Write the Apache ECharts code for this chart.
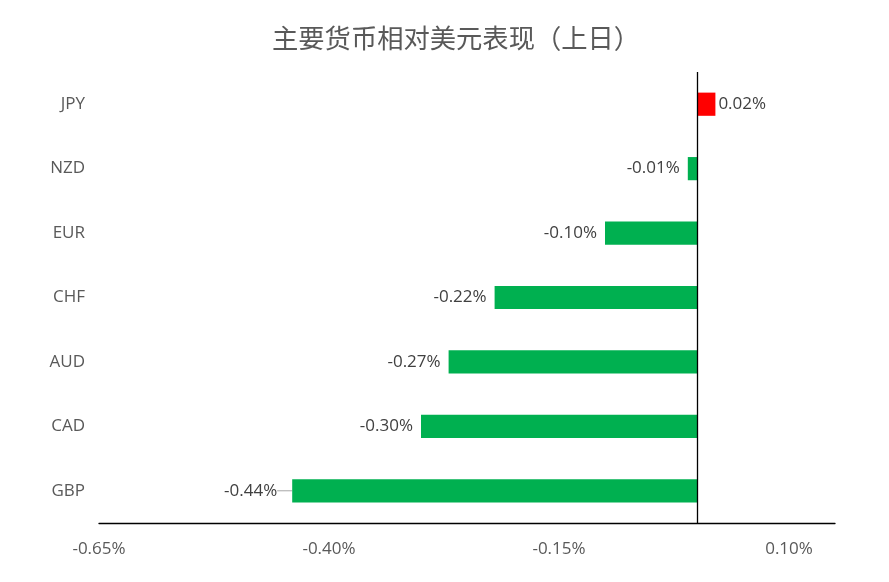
<!DOCTYPE html>
<html>
<head>
<meta charset="utf-8">
<script src="https://cdn.jsdelivr.net/npm/echarts@6/dist/echarts.min.js"></script>
<style>
html, body { margin: 0; padding: 0; background: #fff; }
#container { width: 889px; height: 582px; }
</style>
</head>
<body>
<div id="container"></div>
<script>
// 数据（从上到下）
var currencies = ['JPY', 'NZD', 'EUR', 'CHF', 'AUD', 'CAD', 'GBP'];
var changes = [0.02, -0.01, -0.10, -0.22, -0.27, -0.30, -0.44];
var axisMin = -0.65;
var axisMax = 0.15;
var axisStep = 0.25;

var myChart = echarts.init(document.getElementById('container'));

// 正值红色、负值绿色，标签放在柱子外侧
var lastIdx = currencies.length - 1;
var barData = changes.map(function (v, i) {
    var item = {
        value: v,
        itemStyle: { color: v >= 0 ? '#FF0000' : '#00B050' },
        label: {
            position: v >= 0 ? 'right' : 'left',
            distance: v >= 0 ? 3 : 8
        },
        labelLine: { show: i === lastIdx }
    };
    return item;
});

var option = {
    title: {
        text: '主要货币相对美元表现（上日）',
        left: 267,
        top: 20,
        textStyle: {
            fontFamily: 'Noto Sans CJK SC',
            fontSize: 26.3,
            fontWeight: 'normal',
            color: '#595959'
        }
    },
    grid: {
        left: 99,
        right: 54,
        top: 72,
        bottom: 59,
        containLabel: false
    },
    xAxis: {
        type: 'value',
        min: axisMin,
        max: axisMax,
        interval: axisStep,
        splitLine: { show: false },
        axisTick: { show: false },
        axisLine: { show: true, lineStyle: { color: '#000', width: 1.3 } },
        axisLabel: {
            showMaxLabel: false,
            margin: 18,
            fontFamily: 'Open Sans',
            fontSize: 17,
            color: '#595959',
            formatter: function (v) { return v.toFixed(2) + '%'; }
        }
    },
    yAxis: {
        type: 'category',
        inverse: true,
        data: currencies,
        axisLine: { show: false, onZero: false },
        axisTick: { show: false },
        axisLabel: {
            margin: 14,
            fontFamily: 'Open Sans',
            fontSize: 17,
            color: '#595959'
        }
    },
    series: [
        {
            type: 'bar',
            barWidth: '36%',
            data: barData,
            label: {
                show: true,
                fontFamily: 'Open Sans',
                fontSize: 17,
                color: '#404040',
                formatter: function (p) { return p.value.toFixed(2) + '%'; }
            },
            labelLayout: function (p) {
                // GBP 标签稍微外移，带引导线
                if (p.dataIndex === lastIdx) {
                    return { dx: -7 };
                }
                return {};
            },
            labelLine: {
                show: false,
                lineStyle: { color: '#A6A6A6', width: 1 }
            },
            markLine: {
                silent: true,
                symbol: 'none',
                label: { show: false },
                lineStyle: { color: '#000', type: 'solid', width: 1.3 },
                data: [{ xAxis: 0 }]
            }
        }
    ]
};

myChart.setOption(option);
</script>
</body>
</html>
